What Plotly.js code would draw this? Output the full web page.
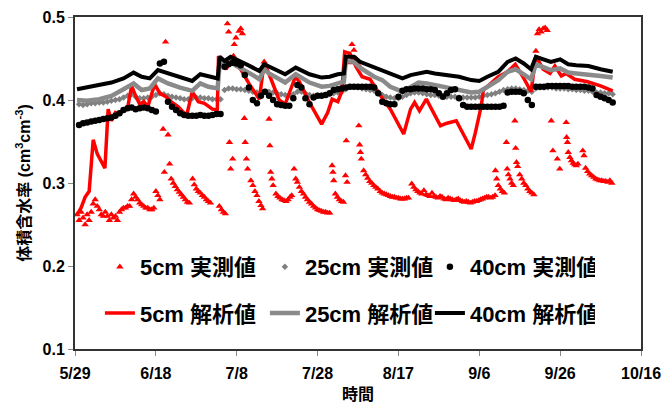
<!DOCTYPE html>
<html>
<head>
<meta charset="utf-8">
<script src="https://cdn.plot.ly/plotly-3.0.1.min.js"></script>
<style>html,body{margin:0;padding:0;background:#fff;}#chart{width:672px;height:403px;}</style>
</head>
<body>
<div id="chart"></div>
<script>
// ---- data (day offsets from 5/29, volumetric water content) ----
const startDate = '2013-05-29';
const tickLabels = ['5/29','6/18','7/8','7/28','8/17','9/6','9/26','10/16'];
const seriesNames = ['5cm 実測値','25cm 実測値','40cm 実測値','5cm 解析値','25cm 解析値','40cm 解析値'];

const obs5Day = [0.5,1,1.5,2,2.5,3,3.5,4,4.5,5,5.5,6,6.5,7,7.5,8,8.5,9,9.5,10,10.5,11,11.5,12,12.5,13,13.5,14,14.5,15,15.5,16,16.5,17,17.5,18,18.5,19,19.5,20,20.5,21,
21.8,22.1,22.4,23,23.4,23.8,24.3,24.8,25.3,25.8,26.3,26.8,27.3,27.8,28.3,29.1,29.5,30,30.5,31,31.5,32,32.5,33,33.5,35.7,36.2,36.7,37.2,
37.7,38,38.2,38.5,39,39.2,39.4,39.8,40.6,41,41.4,41.9,42.1,42.4,42.7,43.5,44,44.5,45,45.5,46,46.4,46.8,48,48.2,48.4,48.7,49,49.7,50.2,50.7,51.2,51.7,52.2,52.7,53.2,53.6,
54.2,54.6,55,55.5,56,56.5,57,57.5,58,58.5,59,59.5,60,60.5,61,61.5,62,62.5,63,63.6,63.8,64,64.4,64.9,65.4,65.9,66.4,66.9,67.1,67.3,
68,68.5,69,69.5,70,70.2,70.4,70.6,70.8,71.4,71.9,72.4,72.9,73.4,73.9,74.4,74.9,75.5,76,76.5,77,77.5,78,78.5,79,79.5,80,80.5,81,81.5,82,82.5,
83.3,83.8,84.3,84.8,85.3,85.8,86.3,86.8,87.3,87.8,88.3,88.8,89.3,89.8,90.3,90.8,91.3,91.8,92.3,92.8,93.3,93.8,94.3,94.8,95.3,95.8,96.3,96.8,97.3,97.8,98.3,98.8,99.3,99.8,
100.3,100.8,101.3,101.8,102.3,102.8,103.3,103.9,104,104.3,104.7,105.2,105.7,106.2,106.7,106.9,107.2,107.6,108,108.4,108.8,109,109.2,109.5,110,110.5,111,111.5,112,112.5,113,113.5,
114,114.4,114.8,115.3,115.8,116.3,116.8,117.8,118.2,119.3,119.9,121.5,121.6,121.8,122,122.4,122.8,123.2,123.6,124,124.4,125.6,125.9,126.3,126.8,127.3,127.8,128.3,128.8,129.3,129.8,130.3,130.8,131.3,131.8,132.3,132.8];
const obs5Val = [0.262,0.255,0.265,0.258,0.250,0.262,0.255,0.265,0.275,0.280,0.272,0.268,0.262,0.260,0.265,0.260,0.255,0.262,0.258,0.260,0.255,0.265,0.268,0.270,0.270,0.272,0.272,0.280,0.287,0.283,0.280,0.276,0.274,0.272,0.270,0.270,0.268,0.268,0.270,0.290,0.285,0.280,
0.365,0.313,0.470,0.358,0.323,0.305,0.300,0.296,0.292,0.289,0.286,0.283,0.280,0.277,0.276,0.305,0.298,0.293,0.290,0.288,0.285,0.283,0.280,0.278,0.276,0.272,0.268,0.265,0.263,
0.492,0.482,0.349,0.317,0.329,0.453,0.467,0.475,0.483,0.486,0.480,0.378,0.349,0.329,0.317,0.303,0.297,0.290,0.285,0.278,0.273,0.269,0.446,0.377,0.345,0.313,0.305,0.297,0.287,0.284,0.282,0.280,0.279,0.278,0.280,0.283,0.285,
0.317,0.305,0.301,0.295,0.290,0.287,0.283,0.280,0.277,0.275,0.272,0.270,0.268,0.267,0.266,0.265,0.265,0.264,0.264,0.321,0.313,0.303,0.287,0.283,0.280,0.278,0.277,0.309,0.351,0.301,
0.445,0.467,0.460,0.450,0.443,0.369,0.346,0.337,0.329,0.315,0.310,0.306,0.302,0.300,0.297,0.295,0.293,0.290,0.288,0.287,0.286,0.285,0.284,0.283,0.283,0.282,0.282,0.281,0.281,0.281,0.282,0.282,
0.299,0.295,0.292,0.290,0.288,0.287,0.291,0.286,0.285,0.284,0.288,0.284,0.283,0.282,0.284,0.283,0.281,0.280,0.282,0.281,0.280,0.279,0.280,0.281,0.279,0.278,0.277,0.278,0.277,0.276,0.277,0.278,0.278,0.279,
0.280,0.281,0.282,0.283,0.283,0.282,0.283,0.285,0.315,0.305,0.297,0.293,0.290,0.288,0.349,0.317,0.310,0.305,0.300,0.297,0.375,0.342,0.325,0.320,0.310,0.305,0.300,0.297,0.293,0.290,0.288,0.286,
0.459,0.480,0.485,0.482,0.486,0.487,0.484,0.375,0.339,0.329,0.317,0.373,0.355,0.349,0.337,0.331,0.327,0.324,0.322,0.321,0.323,0.339,0.333,0.318,0.314,0.311,0.309,0.307,0.305,0.304,0.303,0.303,0.302,0.302,0.301,0.303,0.300];

const obsDailyDay = Array.from({length:133}, (_, i) => i + 1); // daily readings, days 1..133
const obs25Val = [0.395,0.394,0.395,0.396,0.396,0.397,0.397,0.398,0.399,0.400,
0.401,0.403,0.405,0.407,0.404,0.402,0.402,0.403,0.404,0.406,
0.408,0.407,0.405,0.404,0.403,0.402,0.401,0.401,0.402,0.403,
0.403,0.402,0.402,0.401,0.401,0.401,0.412,0.414,0.414,0.413,
0.413,0.412,0.411,0.410,0.409,0.409,0.410,0.410,0.409,0.408,
0.407,0.406,0.406,0.407,0.410,0.410,0.408,0.406,0.405,0.405,
0.405,0.406,0.407,0.408,0.409,0.410,0.413,0.416,0.416,0.415,
0.414,0.413,0.412,0.411,0.409,0.406,0.404,0.403,0.402,0.402,
0.404,0.406,0.408,0.409,0.409,0.408,0.407,0.406,0.406,0.405,
0.405,0.404,0.404,0.404,0.403,0.403,0.403,0.403,0.403,0.404,
0.405,0.406,0.407,0.408,0.410,0.412,0.413,0.414,0.414,0.413,
0.412,0.411,0.410,0.414,0.415,0.415,0.415,0.415,0.414,0.414,
0.414,0.413,0.413,0.412,0.412,0.411,0.411,0.410,0.409,0.409,
0.408,0.408,0.407];
const obs40Val = [0.370,0.372,0.373,0.374,0.375,0.376,0.377,0.378,0.379,0.381,
0.384,0.388,0.390,0.391,0.389,0.390,0.391,0.390,0.388,0.386,
0.444,0.446,0.398,0.392,0.388,0.384,0.382,0.381,0.381,0.381,
0.382,0.381,0.381,0.382,0.383,0.383,0.440,0.443,0.445,0.444,
0.442,0.430,0.415,0.400,0.396,0.405,0.410,0.405,0.400,0.395,
0.394,0.393,0.393,0.402,0.418,0.415,0.402,0.395,0.403,0.405,
0.405,0.406,0.408,0.412,0.413,0.414,0.415,0.416,0.416,0.416,
0.416,0.416,0.416,0.415,0.408,0.398,0.396,0.395,0.395,0.404,
0.411,0.413,0.413,0.414,0.414,0.414,0.413,0.413,0.412,0.408,
0.404,0.408,0.412,0.413,0.402,0.394,0.392,0.392,0.392,0.392,
0.392,0.392,0.392,0.392,0.392,0.393,0.409,0.410,0.410,0.410,
0.408,0.400,0.394,0.416,0.416,0.416,0.417,0.417,0.417,0.417,
0.417,0.417,0.416,0.416,0.416,0.416,0.415,0.414,0.406,0.404,
0.402,0.400,0.397];

const sim5Day = [0.5,1.5,2.5,3.5,4.5,5.5,7.4,8.2,9,10,11,12,13,14,15,16,17,18,19.7,21,22.5,24,25.5,27.6,29,30.5,32,34,35.2,35.5,37.4,38.5,41,43,45.6,46.8,48.5,50.5,52,54.5,55.5,58,61,62.5,63.6,65,66,66.7,68,69.5,71,73,75.6,78,81.3,83,84,85.2,86.9,90.4,92,94.3,98,99,100.5,101,102.2,104.7,107,108.9,110.8,112.8,114,115.8,117.5,118.7,120.3,121.5,123.6,126.8,130,133];
const sim5Val = [0.262,0.270,0.283,0.290,0.352,0.335,0.318,0.389,0.375,0.385,0.383,0.388,0.390,0.417,0.405,0.395,0.398,0.392,0.419,0.408,0.404,0.397,0.392,0.381,0.410,0.398,0.396,0.389,0.388,0.453,0.437,0.448,0.437,0.420,0.401,0.446,0.425,0.400,0.395,0.428,0.422,0.397,0.371,0.385,0.401,0.398,0.410,0.458,0.456,0.440,0.428,0.425,0.405,0.389,0.359,0.389,0.397,0.387,0.401,0.369,0.372,0.375,0.341,0.360,0.393,0.412,0.417,0.428,0.434,0.443,0.428,0.410,0.453,0.437,0.432,0.441,0.429,0.432,0.425,0.422,0.417,0.411];

const simDay = [0.5,3,6,9,12,14.5,16.5,18.5,20.5,23,26,29,31,33,35.3,35.8,37,38.5,40,42,44,45.6,46.8,48,50,52,54.6,56,58,61,63,65,66.5,67,69,70.5,72,74,76,78,81,83,85,87,89,92,95,98,100,102,104.7,107,109,111,112.8,114,116,117.7,120,122,124,127,130,133];
const sim25Val = [0.400,0.399,0.401,0.405,0.413,0.420,0.412,0.414,0.426,0.420,0.415,0.411,0.420,0.416,0.414,0.447,0.441,0.446,0.441,0.436,0.430,0.425,0.437,0.432,0.427,0.421,0.431,0.427,0.421,0.416,0.417,0.420,0.422,0.447,0.446,0.439,0.434,0.428,0.424,0.416,0.410,0.416,0.421,0.420,0.418,0.415,0.412,0.409,0.410,0.416,0.424,0.434,0.437,0.431,0.425,0.443,0.439,0.436,0.438,0.433,0.432,0.431,0.429,0.427];
const sim40Val = [0.413,0.415,0.418,0.421,0.426,0.433,0.428,0.426,0.436,0.432,0.427,0.423,0.431,0.429,0.426,0.452,0.447,0.452,0.449,0.444,0.439,0.435,0.443,0.440,0.436,0.431,0.439,0.436,0.431,0.427,0.428,0.431,0.432,0.452,0.452,0.446,0.443,0.439,0.435,0.431,0.426,0.430,0.432,0.434,0.432,0.430,0.428,0.424,0.423,0.428,0.434,0.446,0.450,0.444,0.437,0.452,0.449,0.446,0.449,0.443,0.442,0.441,0.437,0.434];

// ---- helpers ----
const base = Date.parse(startDate + 'T00:00:00Z');
const toDate = d => new Date(base + d * 86400000).toISOString().slice(0, 19).replace('T', ' ');
const dates = arr => arr.map(toDate);

const FONT = '"Liberation Sans", Arial, "Noto Sans CJK JP", sans-serif';

const traces = [
  {x: dates(obs5Day), y: obs5Val, name: seriesNames[0], mode: 'markers', type: 'scatter',
   marker: {symbol: 'triangle-up', size: 6.5, color: '#ff0000'}, legend: 'legend'},
  {x: dates(obsDailyDay), y: obs25Val, name: seriesNames[1], mode: 'markers', type: 'scatter',
   marker: {symbol: 'diamond', size: 5, color: '#808080'}, legend: 'legend'},
  {x: dates(sim5Day), y: sim5Val, name: seriesNames[3], mode: 'lines', type: 'scatter',
   line: {color: '#ff0000', width: 3.5}, legend: 'legend2'},
  {x: dates(simDay), y: sim25Val, name: seriesNames[4], mode: 'lines', type: 'scatter',
   line: {color: '#8a8a8a', width: 4.5}, legend: 'legend2'},
  {x: dates(obsDailyDay), y: obs40Val, name: seriesNames[2], mode: 'markers', type: 'scatter',
   marker: {symbol: 'circle', size: 6.5, color: '#000000'}, legend: 'legend'},
  {x: dates(simDay), y: sim40Val, name: seriesNames[5], mode: 'lines', type: 'scatter',
   line: {color: '#000000', width: 4}, legend: 'legend2'}
];

const legendCommon = {
  orientation: 'h', xanchor: 'left', yanchor: 'middle', x: 0.044,
  bgcolor: 'rgba(0,0,0,0)', borderwidth: 0,
  entrywidth: 120, entrywidthmode: 'pixels',
  font: {family: FONT, size: 22, color: '#000', weight: 'bold'}
};

const layout = {
  width: 672, height: 403,
  margin: {l: 75, r: 31, t: 17, b: 54},
  paper_bgcolor: '#ffffff', plot_bgcolor: '#ffffff',
  showlegend: true,
  legend: Object.assign({}, legendCommon, {y: 0.247}),
  legend2: Object.assign({}, legendCommon, {y: 0.108}),
  xaxis: {
    type: 'date',
    range: [toDate(0), toDate(140)],
    tickvals: [0,20,40,60,80,100,120,140].map(toDate),
    ticktext: tickLabels,
    ticks: 'outside', ticklen: 5, tickcolor: '#888', tickwidth: 1,
    ticklabelstandoff: 4,
    showgrid: false, zeroline: false,
    showline: true, linecolor: '#333', linewidth: 2, mirror: true,
    tickfont: {family: FONT, size: 16, color: '#000', weight: 'bold'},
    title: {text: '時間', font: {family: FONT, size: 16, color: '#000', weight: 'bold'}, standoff: 8}
  },
  yaxis: {
    range: [0.1, 0.5], dtick: 0.1, tickformat: '.1f',
    ticks: 'outside', ticklen: 5, tickcolor: '#888', tickwidth: 1,
    showgrid: false, zeroline: false,
    showline: true, linecolor: '#333', linewidth: 2, mirror: true,
    tickfont: {family: FONT, size: 16, color: '#000', weight: 'bold'},
    title: {text: '体積含水率 (cm<sup>3</sup>cm<sup>-3</sup>)', font: {family: FONT, size: 16, color: '#000', weight: 'bold'}, standoff: 8}
  }
};

Plotly.newPlot('chart', traces, layout, {displayModeBar: false, staticPlot: true});
</script>
</body>
</html>
